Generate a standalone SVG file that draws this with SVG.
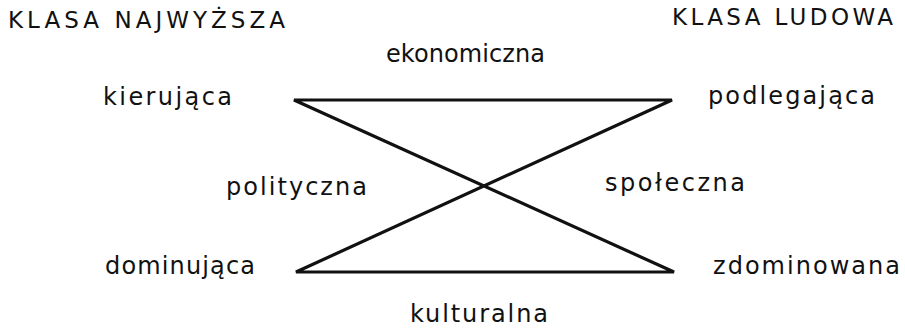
<svg xmlns="http://www.w3.org/2000/svg" width="905" height="330" viewBox="0 0 905 330">
<style>
.t{font-family:"DejaVu Sans","Liberation Sans",sans-serif;font-size:24px;fill:#111;}
.h{font-family:"DejaVu Sans","Liberation Sans",sans-serif;font-size:23px;fill:#111;}
.ln{fill:none;stroke:#111;stroke-width:3.2;stroke-linejoin:miter;}
</style>
<rect width="905" height="330" fill="#fff"/>
<g id="klasa-najwyzsza"><text class="h" x="8" y="28" textLength="277" lengthAdjust="spacing">KLASA NAJWYŻSZA</text></g>
<g id="klasa-ludowa"><text class="h" x="672" y="25" textLength="221" lengthAdjust="spacing">KLASA LUDOWA</text></g>
<g id="ekonomiczna"><text class="t" x="386" y="62" textLength="159" lengthAdjust="spacing">ekonomiczna</text></g>
<g id="kierujaca"><text class="t" x="103" y="105" textLength="129" lengthAdjust="spacing">kierująca</text></g>
<g id="podlegajaca"><text class="t" x="708" y="104" textLength="167" lengthAdjust="spacing">podlegająca</text></g>
<g id="polityczna"><text class="t" x="226" y="195" textLength="141" lengthAdjust="spacing">polityczna</text></g>
<g id="spoleczna"><text class="t" x="605" y="191" textLength="140" lengthAdjust="spacing">społeczna</text></g>
<g id="dominujaca"><text class="t" x="105" y="274" textLength="150" lengthAdjust="spacing">dominująca</text></g>
<g id="zdominowana"><text class="t" x="713" y="274" textLength="187" lengthAdjust="spacing">zdominowana</text></g>
<g id="kulturalna"><text class="t" x="410" y="322" textLength="138" lengthAdjust="spacing">kulturalna</text></g>
<g id="connectors">
<path class="ln" d="M294,100 L672,100 L296,272 L674,272 Z"/>
</g>
</svg>
